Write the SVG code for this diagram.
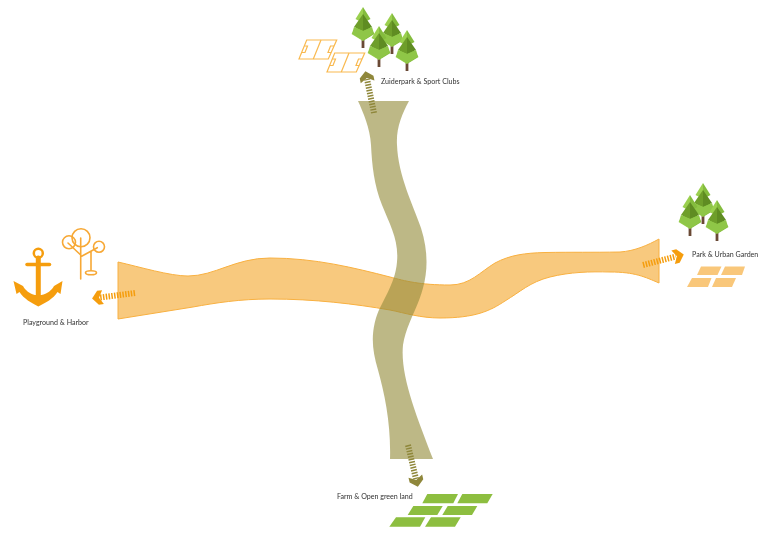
<svg xmlns="http://www.w3.org/2000/svg" xmlns:xlink="http://www.w3.org/1999/xlink" width="763" height="537" viewBox="0 0 763 537">
<style>
.lbl{font-family:"Lato","Liberation Sans",sans-serif;font-size:7.100px;fill:#333333}
.line{fill:none;stroke:#F7A835;stroke-width:1.600}
.court{fill:none;stroke:#F9B94F;stroke-width:1.200}
.flow{fill:none;stroke-width:6;stroke-dasharray:1.500 1.300}
.tileO{fill:#F9C77A}
.tileG{fill:#8DBE3F}
</style>
<defs>
<filter id="soft" x="-5%" y="-5%" width="110%" height="110%"><feGaussianBlur stdDeviation="0.450"/></filter>
<marker id="headO" markerUnits="userSpaceOnUse" markerWidth="20" markerHeight="20" refX="5" refY="10" orient="auto" viewBox="0 0 20 20"><path d="M2,3 L7,3 L13,10 L7,17 L2,17 L6,10 Z" fill="#F59D0E"/></marker>
<marker id="headK" markerUnits="userSpaceOnUse" markerWidth="20" markerHeight="20" refX="5" refY="10" orient="auto" viewBox="0 0 20 20"><path d="M2,3 L7,3 L13,10 L7,17 L2,17 L6,10 Z" fill="#8F873A"/></marker>
<g id="tree">
<rect x="-1.400" y="30" width="2.800" height="11" fill="#6B4A36"/>
<path d="M0,11 L-11.500,27 L0,34 Z" fill="#9BD04F"/><path d="M0,11 L11.500,27 L0,34 Z" fill="#84BC3E"/>
<path d="M0,0 L-7.500,12 L0,16 Z" fill="#9BD04F"/><path d="M0,0 L7.500,12 L0,16 Z" fill="#84BC3E"/>
<path d="M0,7 L-9,20 L0,24 Z" fill="#6E9E2C"/><path d="M0,7 L9,20 L0,24 Z" fill="#5E8C22"/>
<path d="M-9,20 L0,24 L9,20 L11,26.500 L0,33.500 L-11,26.500 Z" fill="#8FC646"/>
</g>
<g id="court" class="court">
<path d="M7.700,0 L37.700,0 L29.300,19 L0,19 Z"/><path d="M22,0 L14.300,19"/>
<path d="M5.300,6 L8.500,6 L6,12.500 L2.600,12.500 M35,6 L31.500,6 L29,12.500 L32.200,12.500"/>
</g>
</defs>
<g filter="url(#soft)">
<g id="bands">
<path id="band-orange" d="M118,262 C140,267 170,276 188,276 C215,276 235,258 270,258 C315,258 355,268 390,277 C405,281 420,285 450,285 C470,285 480,272 495,263 C510,255 525,253 545,252.500 C575,252 590,252.500 620,252 C635,251 648,245 659,239 L659,283 C645,277 635,272 610,272 C590,271.500 570,272 550,277 C530,282 520,292 505,301 C490,311 475,318 440,318 C420,318 405,313 390,310 C355,304 315,299 270,299 C240,299 215,303 193,307 L118,319 Z" fill="#F8C97E" stroke="#F8B040" stroke-width="1"/>
<path id="band-olive" d="M358,101 L409,101 C402,114 396,128 397,145 C398,175 413,205 421,228 C428,250 428,270 423,288 C417,310 406,325 403,345 C400,375 416,415 433,459 L390,459 C391,425 385,395 378,370 C372,350 371,335 376,318 C382,300 395,285 397,262 C399,240 390,225 382,205 C374,185 372,165 371,145 C370,128 363,112 358,101 Z" fill="#948D3E" fill-opacity="0.62"/>
</g>
<g id="connectors">
<path class="flow" stroke="#F59D0E" d="M135,293 L100,297.500" marker-end="url(#headO)"/>
<path class="flow" stroke="#F59D0E" d="M643,265 L676,256.500" marker-end="url(#headO)"/>
<path class="flow" stroke="#8F873A" d="M374,113 L367,79" marker-end="url(#headK)"/>
<path class="flow" stroke="#8F873A" d="M408,445 L416,479" marker-end="url(#headK)"/>
</g>
<g id="node-zuiderpark">
<use xlink:href="#court" href="#court" x="299" y="40"/>
<use xlink:href="#court" href="#court" x="327" y="53"/>
<use xlink:href="#tree" href="#tree" x="363" y="7"/>
<use xlink:href="#tree" href="#tree" x="392" y="13"/>
<use xlink:href="#tree" href="#tree" x="379" y="26"/>
<use xlink:href="#tree" href="#tree" x="407" y="30"/>
<text class="lbl" x="381" y="84">Zuiderpark &amp; Sport Clubs</text>
</g>
<g id="node-playground">
<g fill="none" stroke="#F59D0E" stroke-linecap="round">
<circle cx="38.300" cy="253.300" r="4.500" stroke-width="2.500"/>
<path d="M38.300,258 L38.300,300" stroke-width="5"/>
<path d="M27,264.500 L49.500,264.500" stroke-width="3.500"/>
</g>
<path d="M13.500,281 L23,286 C25,290 30,294 35,295 L41.500,295 C47,294 52,290 54,286 L62.500,281 L60.500,294 L57.500,292 C53,299 46,302.500 38.300,306.500 C31,302.500 24,299 19.500,292 L16.500,294 Z" fill="#F59D0E"/>
<g class="line" stroke-linecap="round">
<circle cx="81" cy="237.700" r="9"/>
<circle cx="69" cy="242.300" r="6.500"/>
<circle cx="99" cy="246.700" r="5.500"/>
<path d="M80.700,238 L80.700,279 M68,243 L80.700,255 M80.700,256.700 L97.300,247.700 M91,251.700 L91,270"/>
<ellipse cx="91" cy="272.700" rx="5.500" ry="2"/>
</g>
<text class="lbl" x="23" y="325">Playground &amp; Harbor</text>
</g>
<g id="node-park">
<use xlink:href="#tree" href="#tree" x="703" y="183"/>
<use xlink:href="#tree" href="#tree" x="690" y="195"/>
<use xlink:href="#tree" href="#tree" x="717" y="200"/>
<text class="lbl" x="692" y="256.500">Park &amp; Urban Garden</text>
<g class="tileO">
<polygon points="701,266.500 721.500,266.500 717.500,275 697,275"/>
<polygon points="725,266.500 745,266.500 742,275 721,275"/>
<polygon points="692,278 711.500,278 708,287 687,287"/>
<polygon points="716,278 736,278 732,287 712,287"/>
</g>
</g>
<g id="node-farm">
<text class="lbl" x="337" y="499">Farm &amp; Open green land</text>
<g class="tileG">
<polygon points="427.300,494 458,494 453.300,503.300 422.300,503.300"/>
<polygon points="462.300,494 492.700,494 487.300,503.300 457.300,503.300"/>
<polygon points="413.300,506 442.700,506 437.300,515 407.700,515"/>
<polygon points="447.700,506 477.300,506 472,515 442.300,515"/>
<polygon points="396,517.300 425.300,517.300 420,526.700 389.300,526.700"/>
<polygon points="431,517.300 460.700,517.300 455,526.700 425,526.700"/>
</g>
</g>
</g>
</svg>
